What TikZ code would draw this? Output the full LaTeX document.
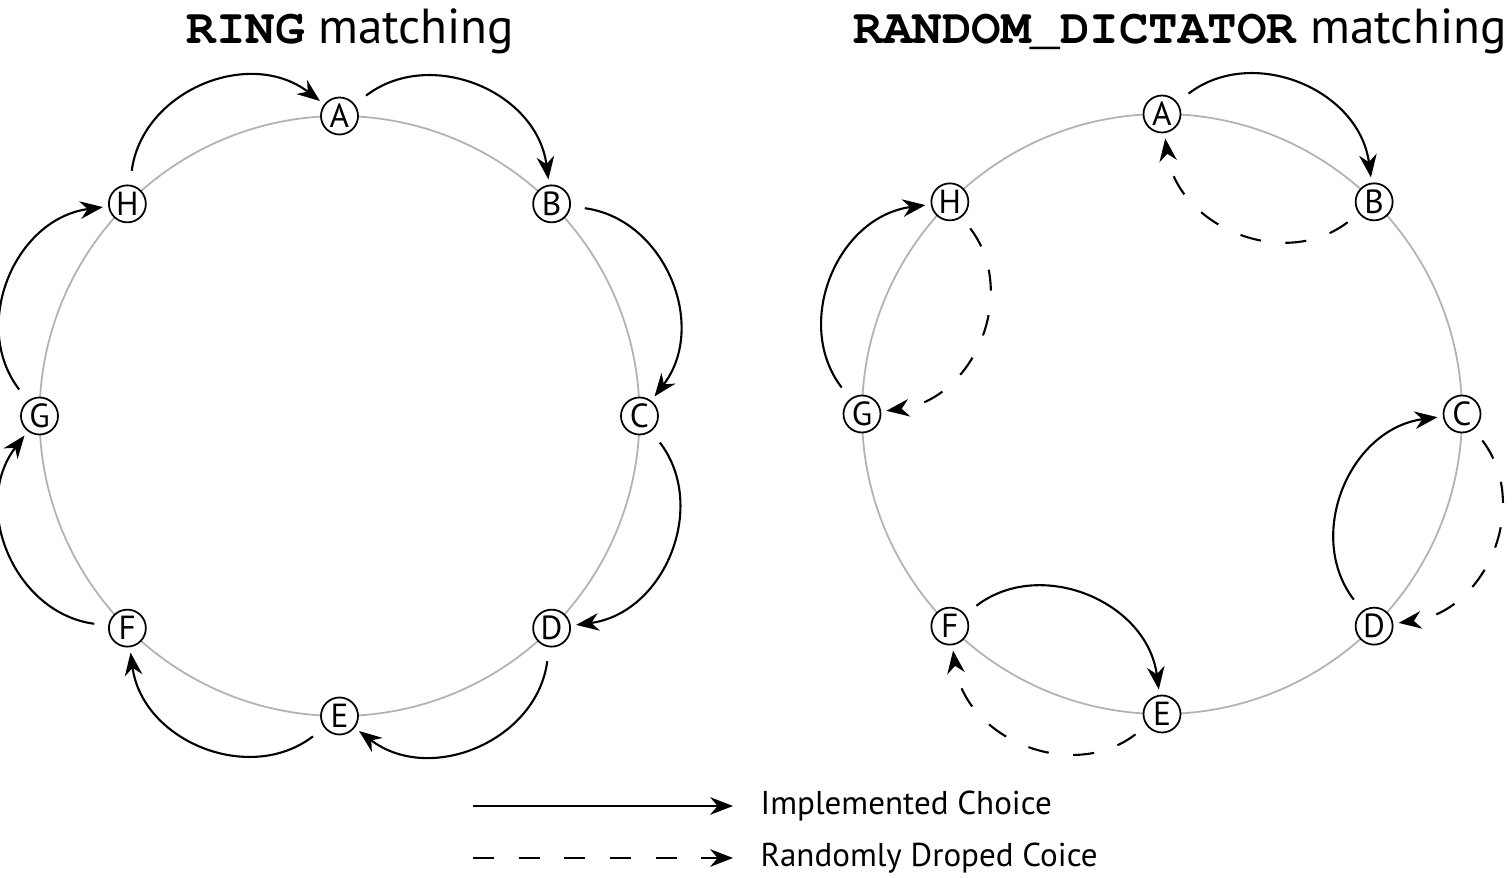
\documentclass[tikz,border=0pt]{standalone}
\usepackage{fontspec}
\setmainfont{PT Sans}
\setmonofont{TeX Gyre Cursor}
\usetikzlibrary{arrows.meta}

\begin{document}
\begin{tikzpicture}[
        vnode/.style={circle, draw=black, fill=white, line width=0.5pt,
                      minimum size=0.37cm, inner sep=0pt,
                      font=\fontsize{9.5}{10}\selectfont},
        ring/.style={draw=black!30, line width=0.5pt},
        choice/.style={->, line width=0.6pt, bend left=60, looseness=1.15,
                       shorten <=4pt, shorten >=1.5pt},
        dropped/.style={choice, dash pattern=on 6pt off 7pt},
        title/.style={anchor=base, inner sep=0pt,
                      font=\fontsize{14}{16}\selectfont},
        legend/.style={anchor=west, inner sep=0pt,
                       font=\fontsize{9.4}{12}\selectfont},
        >={Stealth[length=6.5pt, width=5pt]}
    ]
        \useasboundingbox (0,0) rectangle (15.12,8.77);

        % titles
        \node[title] (tleft) at (3.505, 8.33) {\textbf{\texttt{RING}} matching};
        \node[title] (tright) at (11.80, 8.33) {\textbf{\texttt{RANDOM\_DICTATOR}} matching};

        % left ring
        \draw[ring] (3.395, 4.61) circle (3);
        \node[vnode] (lA) at ([shift={(3.395,4.61)}]90:3) {A};
        \node[vnode] (lB) at ([shift={(3.395,4.61)}]45:3) {B};
        \node[vnode] (lC) at ([shift={(3.395,4.61)}]0:3) {C};
        \node[vnode] (lD) at ([shift={(3.395,4.61)}]-45:3) {D};
        \node[vnode] (lE) at ([shift={(3.395,4.61)}]-90:3) {E};
        \node[vnode] (lF) at ([shift={(3.395,4.61)}]-135:3) {F};
        \node[vnode] (lG) at ([shift={(3.395,4.61)}]180:3) {G};
        \node[vnode] (lH) at ([shift={(3.395,4.61)}]135:3) {H};

        \draw[choice] (lA) to (lB);
        \draw[choice] (lB) to (lC);
        \draw[choice] (lC) to (lD);
        \draw[choice] (lD) to (lE);
        \draw[choice] (lE) to (lF);
        \draw[choice] (lF) to (lG);
        \draw[choice] (lG) to (lH);
        \draw[choice] (lH) to (lA);

        % right ring
        \draw[ring] (11.62, 4.63) circle (3);
        \node[vnode] (rA) at ([shift={(11.62,4.63)}]90:3) {A};
        \node[vnode] (rB) at ([shift={(11.62,4.63)}]45:3) {B};
        \node[vnode] (rC) at ([shift={(11.62,4.63)}]0:3) {C};
        \node[vnode] (rD) at ([shift={(11.62,4.63)}]-45:3) {D};
        \node[vnode] (rE) at ([shift={(11.62,4.63)}]-90:3) {E};
        \node[vnode] (rF) at ([shift={(11.62,4.63)}]-135:3) {F};
        \node[vnode] (rG) at ([shift={(11.62,4.63)}]180:3) {G};
        \node[vnode] (rH) at ([shift={(11.62,4.63)}]135:3) {H};

        \draw[choice] (rA) to (rB);
        \draw[dropped] (rB) to (rA);
        \draw[choice] (rD) to (rC);
        \draw[dropped] (rC) to (rD);
        \draw[choice] (rF) to (rE);
        \draw[dropped] (rE) to (rF);
        \draw[choice] (rG) to (rH);
        \draw[dropped] (rH) to (rG);

        % legend
        \coordinate (s1) at (4.73, 0.71);
        \coordinate (e1) at (7.33, 0.71);
        \coordinate (s2) at (4.73, 0.19);
        \coordinate (e2) at (7.33, 0.19);
        \node[legend] (t1) at (7.60, 0.71) {Implemented Choice};
        \node[legend] (t2) at (7.60, 0.19) {Randomly Droped Coice};
        \draw[->, line width=0.6pt] (s1) -- (e1);
        \draw[->, line width=0.6pt, dash pattern=on 6pt off 7pt] (s2) -- (e2);
    \end{tikzpicture}
\end{document}
